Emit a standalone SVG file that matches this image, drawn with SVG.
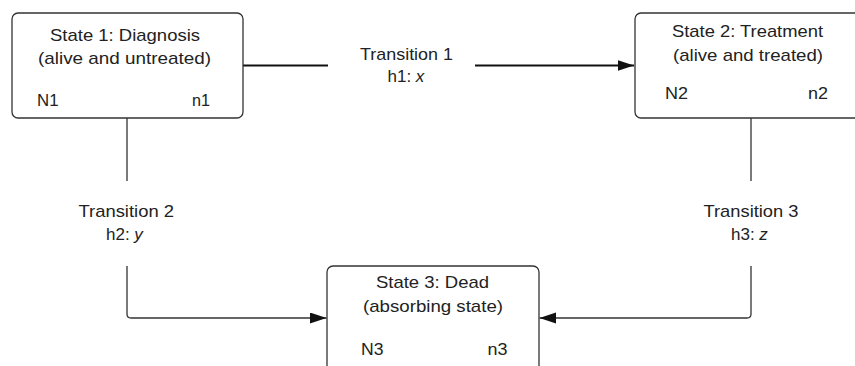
<svg xmlns="http://www.w3.org/2000/svg" width="855" height="366" viewBox="0 0 855 366">
<style>
.box{fill:#fff;stroke:#333;stroke-width:1.3}
.t{font-family:"Liberation Sans",Arial,sans-serif;font-size:17px;fill:#222}
.c{fill:none;stroke:#333;stroke-width:1.3}
.thick{stroke:#111;stroke-width:1.9}
</style>
<defs>
<marker id="ah" markerUnits="userSpaceOnUse" markerWidth="17" markerHeight="12" refX="16.5" refY="5.5" orient="auto">
<path d="M0,0 L16.5,5.5 L0,11 z" fill="#111"/>
</marker>
</defs>
<rect width="855" height="366" fill="#fff"/>
<g id="connectors">
<path class="c thick" d="M243,65.5 H328"/>
<path class="c thick" d="M475,65.5 H634" marker-end="url(#ah)"/>
<path class="c" d="M127,118 V181"/>
<path class="c" d="M127,266 V314 Q127,318 131,318 H326.5" marker-end="url(#ah)"/>
<path class="c" d="M751,118 V181"/>
<path class="c" d="M751,266 V314 Q751,318 747,318 H539.5" marker-end="url(#ah)"/>
<g id="label-t1">
<text class="t" x="360" y="59.5" textLength="93" lengthAdjust="spacingAndGlyphs">Transition 1</text>
<text class="t" x="387.5" y="82">h1: <tspan font-style="italic">x</tspan></text>
</g>
<g id="label-t2">
<text class="t" x="78.5" y="216.5" textLength="95.5" lengthAdjust="spacingAndGlyphs">Transition 2</text>
<text class="t" x="106" y="239.5">h2: <tspan font-style="italic">y</tspan></text>
</g>
<g id="label-t3">
<text class="t" x="703.5" y="216.5" textLength="95" lengthAdjust="spacingAndGlyphs">Transition 3</text>
<text class="t" x="731" y="239.5">h3: <tspan font-style="italic">z</tspan></text>
</g>
</g>
<g id="state1">
<rect class="box" x="12" y="13" width="231" height="105" rx="6"/>
<text class="t" x="50" y="40.5" textLength="150" lengthAdjust="spacingAndGlyphs">State 1: Diagnosis</text>
<text class="t" x="38" y="63.5" textLength="173" lengthAdjust="spacingAndGlyphs">(alive and untreated)</text>
<text class="t" x="37" y="105.5" textLength="21.5" lengthAdjust="spacingAndGlyphs">N1</text>
<text class="t" x="192" y="105.5" textLength="18" lengthAdjust="spacingAndGlyphs">n1</text>
</g>
<g id="state2">
<rect class="box" x="635" y="13" width="226" height="105" rx="6"/>
<text class="t" x="672" y="37" textLength="151" lengthAdjust="spacingAndGlyphs">State 2: Treatment</text>
<text class="t" x="673" y="60.5" textLength="150" lengthAdjust="spacingAndGlyphs">(alive and treated)</text>
<text class="t" x="665" y="98.5" textLength="23" lengthAdjust="spacingAndGlyphs">N2</text>
<text class="t" x="808" y="98.5" textLength="20" lengthAdjust="spacingAndGlyphs">n2</text>
</g>
<g id="state3">
<rect class="box" x="327" y="266" width="212" height="120" rx="6"/>
<text class="t" x="376" y="288" textLength="113" lengthAdjust="spacingAndGlyphs">State 3: Dead</text>
<text class="t" x="363" y="312" textLength="140" lengthAdjust="spacingAndGlyphs">(absorbing state)</text>
<text class="t" x="361" y="355" textLength="22.5" lengthAdjust="spacingAndGlyphs">N3</text>
<text class="t" x="487.5" y="355" textLength="20" lengthAdjust="spacingAndGlyphs">n3</text>
</g>
</svg>
